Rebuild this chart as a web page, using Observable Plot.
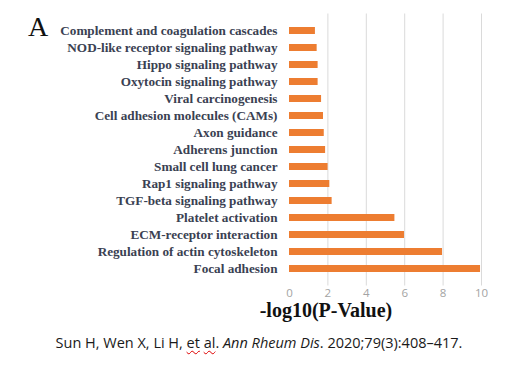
<!DOCTYPE html>
<html>
<head>
<meta charset="utf-8">
<script src="https://cdn.jsdelivr.net/npm/d3@7"></script>
<script src="https://cdn.jsdelivr.net/npm/@observablehq/plot@0.6"></script>
<style>
  html, body { margin: 0; padding: 0; background: #fff; }
  #wrap { position: relative; width: 529px; height: 370px; overflow: hidden; }
  #panel { position: absolute; left: 28px; top: 13px; font: 28px "Liberation Serif", serif; color: #111; line-height: 1; }
  #xtitle { position: absolute; left: 176px; width: 300px; top: 299px; text-align: center;
    font: bold 20px "Liberation Serif", serif; color: #111; }
  #caption { position: absolute; left: 0; width: 518px; top: 333px; text-align: center;
    font: 14.5px "Open Sans", sans-serif; color: #1a1a1a; }
  #caption .sq { text-decoration: underline wavy #d00; text-decoration-thickness: 1px; text-underline-offset: 2px; }
</style>
</head>
<body>
<div id="wrap">
  <div id="chart"></div>
  <div id="panel">A</div>
  <div id="xtitle">-log10(P-Value)</div>
  <div id="caption">Sun H, Wen X, Li H, <span class="sq">et</span> <span class="sq">al</span>. <i>Ann Rheum Dis</i>. 2020;79(3):408–417.</div>
</div>
<script>
const pathways = [
  "Complement and coagulation cascades",
  "NOD-like receptor signaling pathway",
  "Hippo signaling pathway",
  "Oxytocin signaling pathway",
  "Viral carcinogenesis",
  "Cell adhesion molecules (CAMs)",
  "Axon guidance",
  "Adherens junction",
  "Small cell lung cancer",
  "Rap1 signaling pathway",
  "TGF-beta signaling pathway",
  "Platelet activation",
  "ECM-receptor interaction",
  "Regulation of actin cytoskeleton",
  "Focal adhesion"
];
const values = [1.35, 1.44, 1.49, 1.49, 1.67, 1.77, 1.81, 1.88, 2.01, 2.10, 2.22, 5.49, 5.99, 7.97, 9.95];
const xTicks = [0, 2, 4, 6, 8, 10];
const gridTicks = [2, 4, 6, 8, 10];

const data = pathways.map((p, i) => ({pathway: p, value: values[i]}));

const chart = Plot.plot({
  width: 529,
  height: 302,
  marginLeft: 289,
  marginRight: 48,
  marginTop: 13.5,
  marginBottom: 16.5,
  x: {domain: [0, 10]},
  y: {domain: pathways, padding: 0.58},
  marks: [
    Plot.gridX(gridTicks, {stroke: "#dadada", strokeOpacity: 1}),
    Plot.barX(data, {x: "value", y: "pathway", fill: "#ED7D31"}),
    Plot.axisX(xTicks, {tickSize: 0, tickPadding: 3, label: null, fill: "#a3a3a3",
      fontSize: 11.5, fontFamily: "Open Sans, sans-serif"}),
    Plot.axisY({tickSize: 0, tickPadding: 12, label: null, fill: "#3a4152",
      fontSize: 13.2, fontWeight: "bold", fontFamily: "Liberation Serif, serif"})
  ]
});
document.getElementById("chart").appendChild(chart);
</script>
</body>
</html>
